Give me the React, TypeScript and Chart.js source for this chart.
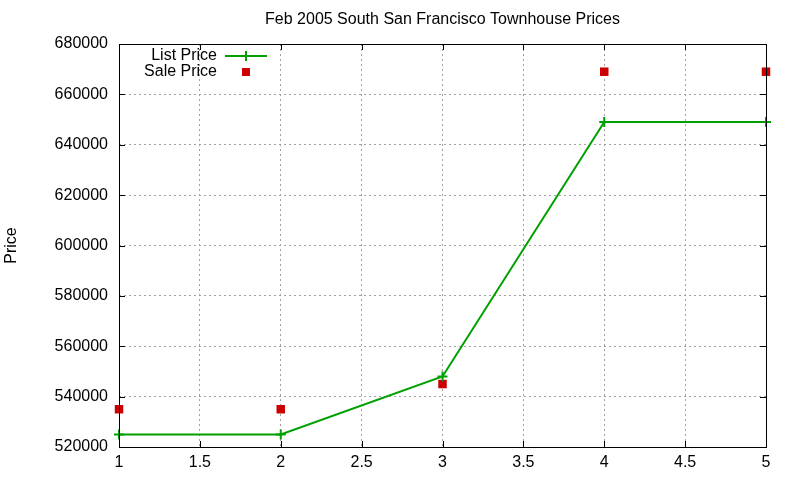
import { useEffect, useRef } from 'react';
import { Chart, registerables } from 'chart.js';

Chart.register(...registerables);

const xValues = [1, 2, 3, 4, 5];
const listPrice = [525000, 525000, 548000, 649000, 649000];
const salePrice = [535000, 535000, 545000, 669000, 669000];
const titleText = 'Feb 2005 South San Francisco Townhouse Prices';
const yTitle = 'Price';
const seriesNames = ['List Price', 'Sale Price'];

const FONT = '"Liberation Sans", Arial, sans-serif';
const green = '#00a000';
const red = '#cc0000';

// gnuplot-ish frame, mirrored inward ticks, title and key
const framePlugin = {
  id: 'frame',
  afterDatasetsDraw(chart: Chart) {
    const { ctx, chartArea: a } = chart;
    const xs = chart.scales.x;
    const ys = chart.scales.y;
    ctx.save();
    ctx.strokeStyle = '#000';
    ctx.lineWidth = 1;
    ctx.beginPath();
    xs.ticks.forEach((t) => {
      const px = Math.round(xs.getPixelForValue(t.value)) + 0.5;
      ctx.moveTo(px, a.bottom);
      ctx.lineTo(px, a.bottom - 6);
      ctx.moveTo(px, a.top);
      ctx.lineTo(px, a.top + 6);
    });
    ys.ticks.forEach((t) => {
      const py = Math.round(ys.getPixelForValue(t.value)) + 0.5;
      ctx.moveTo(a.left, py);
      ctx.lineTo(a.left + 6, py);
      ctx.moveTo(a.right, py);
      ctx.lineTo(a.right - 6, py);
    });
    ctx.stroke();
    ctx.strokeRect(Math.round(a.left) + 0.5, Math.round(a.top) + 0.5, Math.round(a.right - a.left), Math.round(a.bottom - a.top));

    // title
    ctx.fillStyle = '#000';
    ctx.font = `16px ${FONT}`;
    ctx.textAlign = 'center';
    ctx.textBaseline = 'middle';
    ctx.fillText(titleText, (a.left + a.right) / 2, 20);

    // y axis title
    ctx.save();
    ctx.translate(12, (a.top + a.bottom) / 2);
    ctx.rotate(-Math.PI / 2);
    ctx.font = `16px ${FONT}`;
    ctx.fillText(yTitle, 0, 0);
    ctx.restore();

    // key
    ctx.font = `16px ${FONT}`;
    ctx.textAlign = 'right';
    ctx.fillText(seriesNames[0], 217, 56);
    ctx.fillText(seriesNames[1], 217, 72);
    ctx.strokeStyle = green;
    ctx.lineWidth = 2;
    ctx.beginPath();
    ctx.moveTo(225, 56);
    ctx.lineTo(267, 56);
    ctx.moveTo(246, 51);
    ctx.lineTo(246, 61);
    ctx.stroke();
    ctx.fillStyle = red;
    ctx.fillRect(242, 68, 8, 8);
    ctx.restore();
  },
};

export default function App() {
  const canvasRef = useRef<HTMLCanvasElement>(null);

  useEffect(() => {
    if (!canvasRef.current) return;
    const chart = new Chart(canvasRef.current, {
      type: 'line',
      data: {
        datasets: [
          {
            label: seriesNames[0],
            data: xValues.map((x, i) => ({ x, y: listPrice[i] })),
            borderColor: green,
            backgroundColor: green,
            borderWidth: 2,
            pointStyle: 'cross',
            pointRadius: 5,
            pointBorderWidth: 2,
            showLine: true,
            tension: 0,
          },
          {
            label: seriesNames[1],
            data: xValues.map((x, i) => ({ x, y: salePrice[i] })),
            borderColor: red,
            backgroundColor: red,
            showLine: false,
            pointStyle: 'rect',
            pointRadius: 6,
            pointBorderWidth: 0,
          },
        ],
      },
      options: {
        animation: false,
        responsive: false,
        clip: false,
        layout: { padding: { top: 44, right: 34, left: 0, bottom: 0 } },
        plugins: {
          legend: { display: false },
          title: { display: false },
          tooltip: { enabled: false },
        },
        scales: {
          x: {
            type: 'linear',
            min: 1,
            max: 5,
            ticks: {
              stepSize: 0.5,
              color: '#000',
              padding: 6,
              font: { family: FONT, size: 16 },
              callback: (v) => String(v),
            },
            grid: { color: '#a0a0a0', drawTicks: false, lineWidth: 1 },
            border: { display: false, dash: [2, 3] },
            afterFit: (s) => {
              s.height = 33;
            },
          },
          y: {
            type: 'linear',
            min: 520000,
            max: 680000,
            ticks: {
              stepSize: 20000,
              color: '#000',
              padding: 11,
              font: { family: FONT, size: 16 },
              callback: (v) => String(v),
            },
            grid: { color: '#a0a0a0', drawTicks: false, lineWidth: 1 },
            border: { display: false, dash: [2, 3] },
            afterFit: (s) => {
              s.width = 119;
            },
          },
        },
      },
      plugins: [framePlugin],
    });
    return () => chart.destroy();
  }, []);

  return (
    <div style={{ position: 'absolute', left: 0, top: 0, width: 800, height: 480, background: '#fff' }}>
      <canvas ref={canvasRef} width={800} height={480} />
    </div>
  );
}
